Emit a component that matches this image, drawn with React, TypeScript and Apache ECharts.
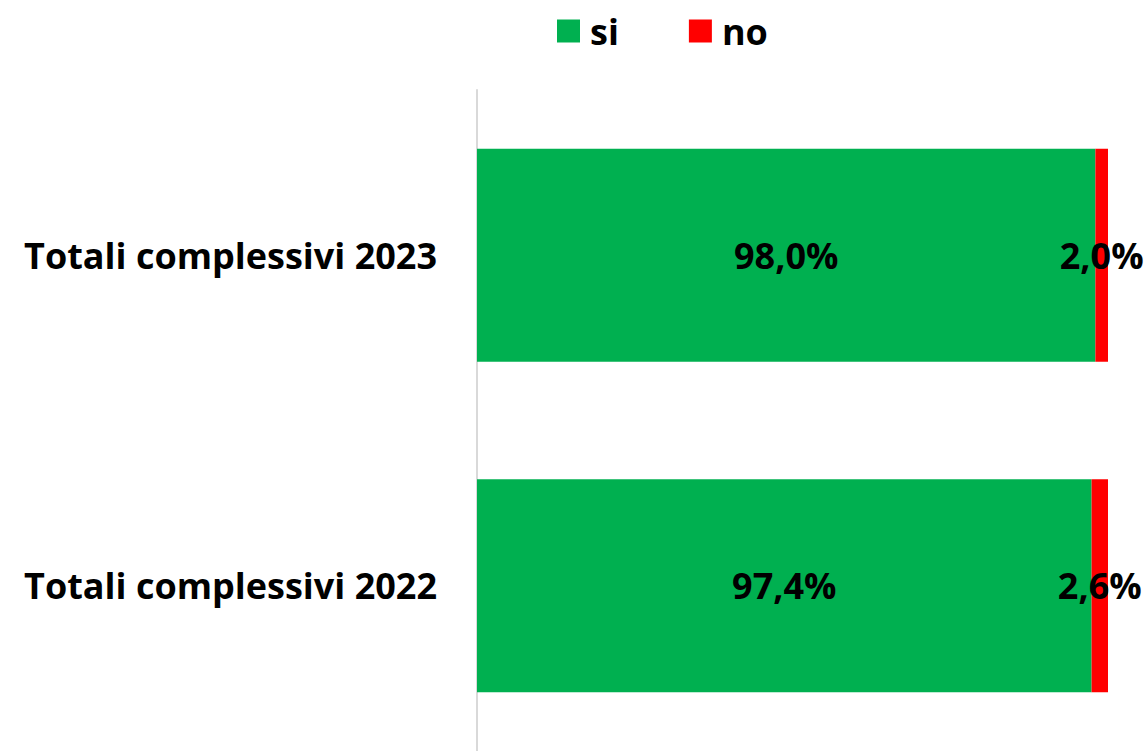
import React, { useEffect, useRef } from "react";
import * as echarts from "echarts";

const categories = ["Totali complessivi 2022", "Totali complessivi 2023"];
const siValues = [97.4, 98.0];
const noValues = [2.6, 2.0];

const FONT = "Open Sans";
const FS = 36;

const fmt = (v: number) => v.toFixed(1).replace(".", ",") + "%";

export default function App() {
  const ref = useRef<HTMLDivElement>(null);
  useEffect(() => {
    if (!ref.current) return;
    const chart = echarts.init(ref.current, undefined, { renderer: "svg" });
    const labelStyle = {
      show: true,
      position: "inside" as const,
      color: "#000",
      fontFamily: FONT,
      fontWeight: "bold" as const,
      fontSize: FS,
      formatter: (p: any) => fmt(p.value),
    };
    chart.setOption({
      animation: false,
      backgroundColor: "#fff",
      legend: {
        top: 8,
        left: 552,
        itemWidth: 23,
        itemHeight: 23,
        itemGap: 70,
        icon: "rect",
        textStyle: {
          fontFamily: FONT,
          fontWeight: "bold",
          fontSize: FS,
          color: "#000",
          padding: [0, 0, 0, 5],
        },
        data: ["si", "no"],
      },
      grid: { left: 477, right: 40, top: 90, height: 664, containLabel: false },
      xAxis: {
        type: "value",
        min: 0,
        max: 100,
        show: false,
      },
      yAxis: {
        type: "category",
        data: categories,
        axisLine: { show: true, lineStyle: { color: "#d9d9d9", width: 2 } },
        axisTick: { show: false },
        axisLabel: {
          margin: 40,
          color: "#000",
          fontFamily: FONT,
          fontWeight: "bold",
          fontSize: FS,
        },
        splitLine: { show: false },
      },
      series: [
        {
          name: "si",
          type: "bar",
          stack: "total",
          data: siValues,
          barCategoryGap: "35.5%",
          itemStyle: { color: "#00b050" },
          label: labelStyle,
        },
        {
          name: "no",
          type: "bar",
          stack: "total",
          data: noValues,
          itemStyle: { color: "#ff0000" },
          label: labelStyle,
        },
      ],
    });
    return () => chart.dispose();
  }, []);
  return (
    <div
      ref={ref}
      style={{ position: "fixed", left: 0, top: 0, width: 1148, height: 751 }}
    />
  );
}
